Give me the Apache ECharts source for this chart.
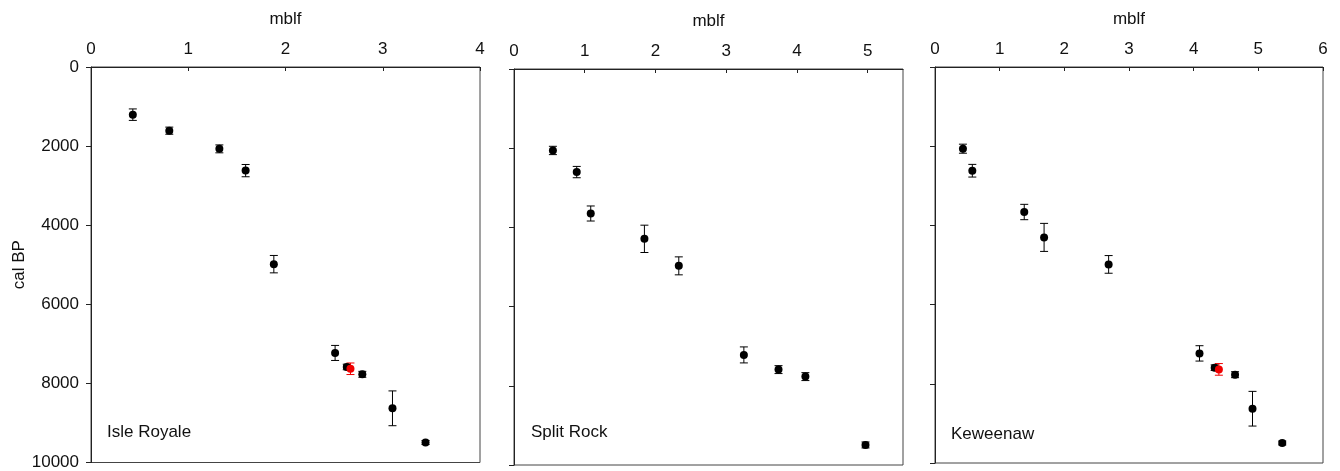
<!DOCTYPE html>
<html><head><meta charset="utf-8">
<script src="https://cdn.jsdelivr.net/npm/echarts@6/dist/echarts.min.js"></script>
<style>html,body{margin:0;padding:0;background:#fff}#c{width:1340px;height:471px}</style>
</head><body><div id="c"></div>
<script>
// ---- data ----
const panelNames = ['Isle Royale', 'Split Rock', 'Keweenaw'];
const xMaxes = [4, 5.5, 6];
const xTickLabels1 = [0, 1, 2, 3, 4];
const xTickLabels2 = [0, 1, 2, 3, 4, 5];
const xTickLabels3 = [0, 1, 2, 3, 4, 5, 6];
const yTickLabels = [0, 2000, 4000, 6000, 8000, 10000];

const isleX   = [0.43, 0.805, 1.32, 1.59, 1.88, 2.51, 2.63, 2.79, 3.10, 3.44];
const isleY   = [1205, 1610, 2070, 2620, 4985, 7230, 7585, 7770, 8630, 9495];
const isleErr = [145, 90, 100, 155, 220, 190, 70, 75, 440, 50];
const isleRedX = [2.668], isleRedY = [7630], isleRedErr = [146];

const splitX   = [0.55, 0.887, 1.085, 1.844, 2.33, 3.25, 3.74, 4.12, 4.97];
const splitY   = [2057, 2603, 3649, 4289, 4971, 7220, 7591, 7768, 9494];
const splitErr = [105, 143, 190, 345, 227, 202, 100, 100, 75];

const kewX   = [0.432, 0.577, 1.38, 1.687, 2.685, 4.09, 4.325, 4.64, 4.91, 5.37];
const kewY   = [2063, 2619, 3662, 4303, 4985, 7232, 7593, 7770, 8629, 9495];
const kewErr = [114, 160, 194, 354, 223, 194, 70, 75, 438, 50];
const kewRedX = [4.39], kewRedY = [7636], kewRedErr = [147];

// ---- build ----
const FONT = '"Liberation Sans", Arial, sans-serif';
const BLACK = '#000', RED = '#f00000';
const zip = (xs, ys, es) => xs.map((x, i) => [x, ys[i], es[i]]);

const grids = [
  { left: 91, top: 67, width: 389, height: 396 },
  { left: 514, top: 69, width: 389, height: 396 },
  { left: 935, top: 67, width: 388, height: 396 }
].map(g => Object.assign(g, { show: true, borderColor: '#444', borderWidth: 1, backgroundColor: 'transparent' }));

const xTickSets = [xTickLabels1, xTickLabels2, xTickLabels3];
const xAxes = xMaxes.map((mx, i) => ({
  type: 'value', gridIndex: i, position: 'top', min: 0, max: mx, interval: 1,
  name: 'mblf', nameLocation: 'middle', nameGap: 39,
  nameTextStyle: { fontFamily: FONT, fontSize: 17, color: '#111' },
  axisLine: { show: true, lineStyle: { color: '#222', width: 1 } },
  axisTick: { show: true, inside: true, length: 4, lineStyle: { color: '#222' }, customValues: xTickSets[i] },
  axisLabel: { show: true, margin: 9, fontFamily: FONT, fontSize: 17, color: '#111', customValues: xTickSets[i],
               formatter: v => String(v) },
  splitLine: { show: false }
}));

const yAxes = [0, 1, 2].map(i => ({
  type: 'value', gridIndex: i, inverse: true, min: 0, max: 10000, interval: 2000,
  name: i === 0 ? 'cal BP' : '', nameLocation: 'middle', nameGap: 59, nameRotate: 90,
  nameTextStyle: { fontFamily: FONT, fontSize: 17, color: '#111' },
  axisLine: { show: true, lineStyle: { color: '#222', width: 1 } },
  axisTick: { show: true, inside: false, length: 5, lineStyle: { color: '#222' } },
  axisLabel: { show: i === 0, margin: 12, fontFamily: FONT, fontSize: 17, color: '#111',
               customValues: yTickLabels, formatter: v => String(v) },
  splitLine: { show: false }
}));

function errSeries(data, idx, color) {
  return {
    type: 'custom', xAxisIndex: idx, yAxisIndex: idx, data: data,
    encode: { x: 0, y: 1 }, silent: true, z: 2,
    renderItem: function (params, api) {
      const x = api.value(0), y = api.value(1), e = api.value(2);
      const top = api.coord([x, y - e]);
      const bot = api.coord([x, y + e]);
      const hw = 4;
      const st = { stroke: color, lineWidth: 1 };
      return { type: 'group', children: [
        { type: 'line', shape: { x1: top[0], y1: top[1], x2: bot[0], y2: bot[1] }, style: st },
        { type: 'line', shape: { x1: top[0] - hw, y1: top[1], x2: top[0] + hw, y2: top[1] }, style: st },
        { type: 'line', shape: { x1: bot[0] - hw, y1: bot[1], x2: bot[0] + hw, y2: bot[1] }, style: st }
      ]};
    }
  };
}
function ptSeries(data, idx, color, z) {
  return { type: 'scatter', xAxisIndex: idx, yAxisIndex: idx, data: data.map(d => [d[0], d[1]]),
    symbol: 'circle', symbolSize: 8, itemStyle: { color: color, opacity: 1 }, z: z, silent: true };
}

const black = [zip(isleX, isleY, isleErr), zip(splitX, splitY, splitErr), zip(kewX, kewY, kewErr)];
const reds = [zip(isleRedX, isleRedY, isleRedErr), [], zip(kewRedX, kewRedY, kewRedErr)];

const series = [];
black.forEach((d, i) => { series.push(errSeries(d, i, BLACK)); series.push(ptSeries(d, i, BLACK, 3)); });
reds.forEach((d, i) => { if (d.length) { series.push(errSeries(d, i, RED)); series.push(ptSeries(d, i, RED, 4)); } });

const labelPos = [[107, 433], [531, 433], [951, 435]];
const graphic = panelNames.map((n, i) => ({
  type: 'text', left: labelPos[i][0], top: labelPos[i][1] - 9,
  style: { text: n, fontFamily: FONT, fontSize: 17, fill: '#111' }
}));

const chart = echarts.init(document.getElementById('c'), null, { renderer: 'canvas' });
chart.setOption({
  animation: false, backgroundColor: '#fff',
  grid: grids, xAxis: xAxes, yAxis: yAxes, series: series, graphic: graphic
});
</script></body></html>
